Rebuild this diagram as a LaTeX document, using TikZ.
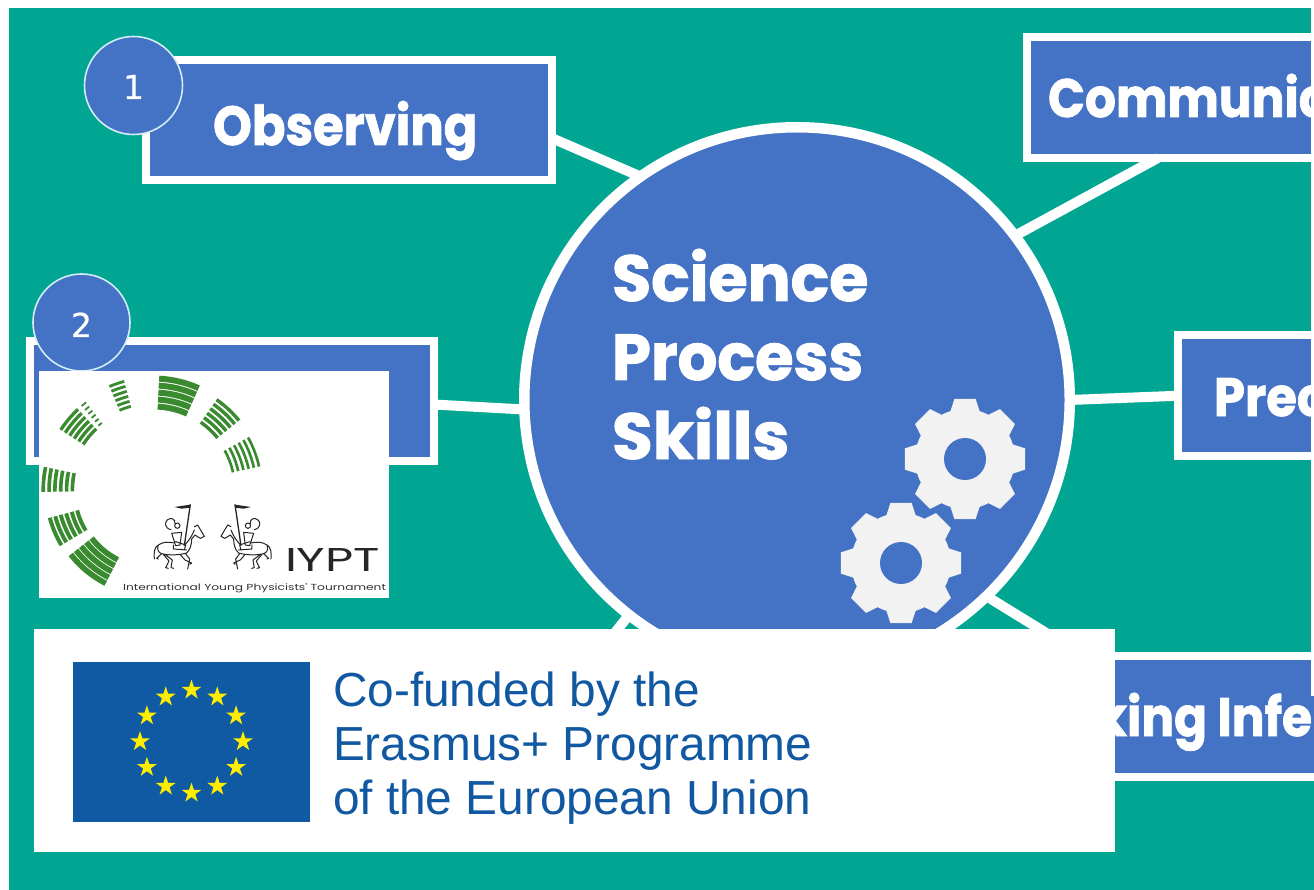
\documentclass[tikz,border=0pt]{standalone}
\usepackage{graphicx}
\usepackage{fontspec}
\usetikzlibrary{shapes.geometric}
\setmainfont{Liberation Sans}
\newfontfamily\heavy[FakeBold=1.5]{Poppins Bold}
\newfontfamily\plainpop{Poppins}
\newfontfamily\numfont[FakeBold=0.6]{DejaVu Sans}
\definecolor{teal1}{HTML}{00A692}
\definecolor{blue1}{HTML}{4472C4}
\definecolor{ring1}{HTML}{D3ECF6}
\definecolor{euflag}{HTML}{0F5AA3}
\definecolor{eutext}{HTML}{1058A1}
\definecolor{eustar}{HTML}{FFED00}
\definecolor{gear1}{HTML}{F2F2F2}
\definecolor{iyptgreen}{HTML}{3A8A30}
\tikzset{
  skillbox/.style={rectangle,draw=white,fill=blue1,line width=8pt,inner sep=0pt,outer sep=0pt},
  numdisc/.style={circle,draw=ring1,fill=blue1,line width=1.6pt,inner sep=0pt,outer sep=0pt,minimum size=97pt},
  link/.style={draw=white,line width=10pt},
  heavytext/.style={text=white,anchor=base west,inner sep=0pt,outer sep=0pt},
  numtext/.style={text=white,anchor=base,inner sep=0pt,outer sep=0pt,font=\numfont\fontsize{33}{33}\selectfont},
  eutxt/.style={text=eutext,anchor=base west,inner sep=0pt,outer sep=0pt,font=\fontsize{47.8}{47.8}\selectfont},
  eustarnode/.style={star,star points=5,star point ratio=2.618,fill=eustar,inner sep=0pt,outer sep=0pt,minimum size=21pt},
}
\newcommand{\gearshape}[2]{%
  \begin{scope}[shift={(#1,#2)}]
    \fill[gear1,line join=round] (-17:50)
      \foreach \a in {0,45,...,315} { -- ({\a-17}:50) -- ({\a-10}:61) -- ({\a+10}:61) -- ({\a+17}:50) -- ({\a+22.5}:50) } -- cycle;
    \fill[blue1] (0,0) circle (21);
  \end{scope}}
\newcommand{\stripes}[6]{% a1 a2 r1 r2 n fraction
  \pgfmathsetmacro{\dr}{(#4-#3)/#5}
  \pgfmathsetmacro{\lw}{\dr*#6}
  \pgfmathtruncatemacro{\nn}{#5-1}
  \foreach \i in {0,...,\nn} {
    \pgfmathsetmacro{\rr}{#3+(\i+.5)*\dr}
    \draw[iyptgreen,line width=\lw pt] (#1:\rr) arc[start angle=#1,end angle=#2,radius=\rr];
  }}
\newcommand{\knight}{%
  \fill[black!85] (88,36) -- (136,29) -- (136,38) -- (110,41) -- cycle;
  \draw[black!85,line width=1.3pt] (136,28) -- (118,152);
  \draw[black!85,line width=1pt,line join=round,line cap=round]
    (78,104) .. controls (58,100) and (58,80) .. (68,74) .. controls (78,66) and (92,72) .. (90,86)
    (97,92) circle (8)
    (80,115) -- (110,112) -- (105,150) -- (92,152) -- cycle
    (40,150) .. controls (55,140) and (70,140) .. (88,144)
    (118,150) .. controls (130,140) and (140,125) .. (148,105)
    (148,95) -- (158,90) -- (178,124) -- (166,130) -- (150,120) -- (140,132)
    (140,132) .. controls (140,150) and (135,165) .. (125,174)
    (50,176) .. controls (75,182) and (105,180) .. (125,174)
    (40,150) .. controls (28,155) and (26,175) .. (28,192)
    (40,150) .. controls (35,165) and (40,172) .. (50,176)
    (50,176) -- (35,190) -- (40,192)
    (55,178) -- (72,198) -- (62,218) -- (70,220)
    (62,180) -- (82,195) -- (78,218) -- (86,220)
    (122,176) -- (134,192) -- (128,222)
    (105,178) -- (120,195) -- (140,204) -- (135,208)
    (85,150) -- (85,162) -- (125,165)
    (92,140) -- (122,150) -- (118,165);
}
\begin{document}
\begin{tikzpicture}[x=1pt,y=-1pt]
\useasboundingbox (0,0) rectangle (1314,890);
\clip (0,0) rectangle (1314,890);
\fill[white] (0,0) rectangle (1314,890);
\fill[teal1] (9,8) rectangle (1314,890);

% central disc
\node[circle,draw=white,fill=blue1,line width=10.5pt,inner sep=0pt,outer sep=0pt,minimum size=545.5pt] (hub) at (797,400) {};

% boxes
\node[skillbox,minimum width=405.5pt,minimum height=120.5pt] (box1) at (348.75,120.25) {};
\node[skillbox,minimum width=404pt,minimum height=120pt] (box2) at (232,401) {};
\node[skillbox,minimum width=313pt,minimum height=121pt] (box3) at (1183.5,97.5) {};
\node[skillbox,minimum width=162pt,minimum height=120.5pt] (box4) at (1259,395.75) {};
\node[skillbox,minimum width=340pt,minimum height=121pt] (box5) at (1170,716.5) {};
\coordinate (hidden) at (590,664);

% connectors
\draw[link] (box1.-5.1) -- (hub.125.7);
\draw[link] (box2.-1.7) -- (hub.182.5);
\draw[link] (box3.247.1) -- (hub.37);
\draw[link] (box4.180.9) -- (hub.-0.2);
\draw[link] (box5.145.2) -- (hub.-46);
\draw[link] (hub.232.5) -- (hidden);

% number discs
\node[numdisc,minimum size=98pt] (disc1) at (133.5,85.5) {};
\node[numdisc,minimum size=97pt] (disc2) at (81.5,322.5) {};
\node[numtext] (num1) at (133.5,99) {1};
\node[numtext] (num2) at (81.5,337) {2};

% labels
\node[heavytext] (lab1) at (213,145) {\scalebox{.90}[1]{\heavy\fontsize{55}{55}\selectfont Observing}};
\node[heavytext] (lab3) at (1048,117) {\scalebox{.90}[1]{\heavy\fontsize{54}{54}\selectfont Communic}};
\node[heavytext] (lab4) at (1214,416) {\scalebox{.92}[1]{\heavy\fontsize{54}{54}\selectfont Prec}};
\node[heavytext] (lab5) at (1097,736) {\scalebox{.90}[1]{\heavy\fontsize{54}{54}\selectfont king Infe}};
\node[heavytext] (hub1) at (612,301) {\scalebox{.98}[1]{\heavy\fontsize{65}{65}\selectfont Science}};
\node[heavytext] (hub2) at (612,380) {\scalebox{.96}[1]{\heavy\fontsize{65}{65}\selectfont Process}};
\node[heavytext] (hub3) at (612,459) {\scalebox{1.02}[1]{\heavy\fontsize{65}{65}\selectfont Skills}};

% gears
\gearshape{965}{459}
\gearshape{901}{563}

% right white sliver
\fill[white] (1311,0) rectangle (1314,696);

% IYPT logo panel
\node[rectangle,fill=white,inner sep=0pt,outer sep=0pt,minimum width=350pt,minimum height=227pt] (logo) at (214,484.5) {};
\begin{scope}[shift={(153.3,490)},x=1pt,y=1pt,line cap=butt]
  \stripes{66}{87}{80}{115}{5}{.85}
  \stripes{39}{55}{80}{113}{6}{.62}
  \stripes{12.5}{29}{79}{111}{6}{.5}
  \stripes{168}{181}{78}{113}{6}{.62}
  \stripes{195}{211}{76}{110}{6}{.7}
  \stripes{218}{243}{75}{108}{5}{.85}
  \stripes{133}{147}{81}{113}{6}{.62}
  \stripes{127.5}{130.5}{82}{113}{6}{.35}
  \stripes{105}{113}{84}{115}{6}{.55}
\end{scope}
\begin{scope}[shift={(145,495)},x=.3333pt,y=-.3333pt]
  \knight
\end{scope}
\begin{scope}[shift={(280.3,495)},x=-.3333pt,y=-.3333pt]
  \knight
\end{scope}
\node[anchor=base west,inner sep=0pt,outer sep=0pt,text=black!85] (iypt) at (285,571) {\resizebox{95pt}{23pt}{\plainpop IYPT}};
\node[anchor=base west,inner sep=0pt,outer sep=0pt,text=black!80] (iyptlong) at (123,590) {\resizebox{263pt}{7pt}{\plainpop International Young Physicists' Tournament}};

% EU panel
\node[rectangle,fill=white,inner sep=0pt,outer sep=0pt,minimum width=1081pt,minimum height=223pt] (eupanel) at (574.5,740.5) {};
\node[rectangle,fill=euflag,inner sep=0pt,outer sep=0pt,minimum width=237pt,minimum height=160pt] (flag) at (191.5,742) {};
\foreach \i in {0,...,11} {
  \node[eustarnode] (st\i) at ({191.5+51.5*cos(\i*30)},{741.5+51.5*sin(\i*30)}) {};
}
\node[eutxt] (eu1) at (333,706) {Co-funded by the};
\node[eutxt] (eu2) at (333,760) {Erasmus+ Programme};
\node[eutxt] (eu3) at (333,814) {of the European Union};
\end{tikzpicture}
\end{document}
